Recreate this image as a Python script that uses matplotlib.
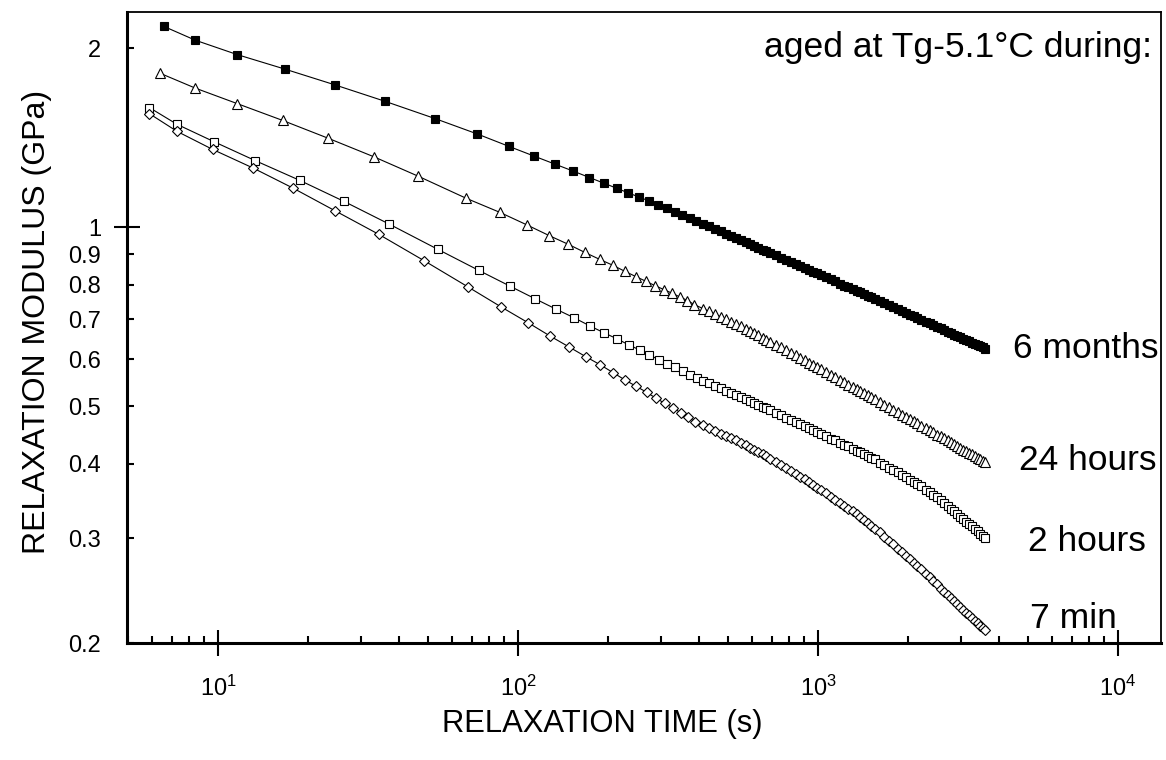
import matplotlib
matplotlib.use("Agg")
import matplotlib.pyplot as plt
from matplotlib.ticker import LogLocator, FixedLocator, FixedFormatter, NullFormatter

plt.rcParams['font.family'] = ['Liberation Sans', 'DejaVu Sans']
plt.rcParams['mathtext.fontset'] = 'custom'
plt.rcParams['mathtext.rm'] = 'Liberation Sans'
plt.rcParams['mathtext.default'] = 'regular'

# relaxation time (s), first part of each test (own sampling)
t_6mo = [6.6, 8.4, 11.6, 16.7, 24.5, 36, 53, 73, 93, 113, 133, 153, 173, 193,
         213, 233, 253, 273, 293, 313, 333, 353, 373, 393]
t_24h = [6.4, 8.4, 11.6, 16.4, 23.2, 33.1, 46.5, 67, 87, 107, 127, 147, 167,
         187, 207, 227, 247, 267, 287, 307, 327, 347, 367, 387]
t_2h = [5.9, 7.3, 9.7, 13.3, 18.7, 26.2, 37.2, 54, 74, 94, 114, 134, 154, 174,
        194, 214, 234, 254, 274, 294, 314, 334, 354, 374, 394]
t_7min = [5.9, 7.3, 9.6, 13.1, 17.8, 24.6, 34.3, 48.7, 68, 88, 108, 128, 148,
          168, 188, 208, 228, 248, 268, 288, 308, 328, 348, 368, 388]

# relaxation modulus (GPa), first part
g_6mo = [2.175, 2.062, 1.950, 1.844, 1.735, 1.628, 1.522, 1.435, 1.368, 1.317,
         1.276, 1.242, 1.212, 1.186, 1.163, 1.142, 1.124, 1.107, 1.091, 1.077,
         1.062, 1.049, 1.036, 1.024]
g_24h = [1.815, 1.713, 1.613, 1.512, 1.412, 1.313, 1.218, 1.119, 1.059, 1.009,
         0.968, 0.936, 0.907, 0.883, 0.863, 0.843, 0.826, 0.811, 0.797, 0.785,
         0.774, 0.763, 0.753, 0.741]
g_2h = [1.589, 1.489, 1.392, 1.294, 1.199, 1.106, 1.012, 0.918, 0.846, 0.796,
        0.758, 0.728, 0.704, 0.682, 0.664, 0.649, 0.634, 0.622, 0.610, 0.599,
        0.590, 0.582, 0.573, 0.565, 0.557]
g_7min = [1.552, 1.449, 1.351, 1.257, 1.163, 1.065, 0.973, 0.878, 0.794, 0.734,
          0.691, 0.656, 0.629, 0.606, 0.587, 0.569, 0.553, 0.540, 0.528, 0.516,
          0.506, 0.497, 0.488, 0.480, 0.471]

# later part, same times for all tests
t_tail = [413, 433, 453, 473, 493, 513, 533, 553, 573, 593, 613, 633, 653, 673, 693,
          723, 753, 783, 813, 843, 873, 903, 933, 963, 993, 1023,
          1063, 1103, 1143, 1183, 1223, 1263, 1303, 1343, 1383, 1423, 1463, 1503, 1543,
          1603, 1663, 1723, 1783, 1843, 1903, 1963, 2023, 2083, 2143, 2203,
          2283, 2353, 2423, 2493, 2563, 2633, 2703, 2773, 2843, 2913,
          2983, 3053, 3123, 3193, 3263, 3333, 3403, 3473, 3543, 3613]
g_6mo_tail = [1.013, 1.003, 0.993, 0.984, 0.975, 0.966, 0.958, 0.951, 0.943, 0.936,
              0.930, 0.923, 0.917, 0.911, 0.905,
              0.897, 0.889, 0.881, 0.874, 0.867, 0.861, 0.854, 0.848, 0.842, 0.837, 0.831,
              0.824, 0.817, 0.811, 0.804, 0.798, 0.792, 0.787, 0.782, 0.777, 0.772,
              0.767, 0.762, 0.758,
              0.751, 0.745, 0.739, 0.733, 0.728, 0.723, 0.717, 0.713, 0.708, 0.703, 0.699,
              0.693, 0.689, 0.684, 0.680, 0.676, 0.672, 0.667, 0.664, 0.660, 0.656,
              0.653, 0.650, 0.646, 0.643, 0.640, 0.637, 0.634, 0.631, 0.628, 0.625]
g_24h_tail = [0.730, 0.722, 0.715, 0.707, 0.700, 0.693, 0.687, 0.681, 0.675, 0.669,
              0.663, 0.658, 0.652, 0.647, 0.642,
              0.635, 0.628, 0.621, 0.615, 0.609, 0.603, 0.598, 0.592, 0.587, 0.582, 0.577,
              0.571, 0.565, 0.560, 0.554, 0.549, 0.544, 0.539, 0.535, 0.531, 0.526,
              0.522, 0.518, 0.514,
              0.509, 0.503, 0.498, 0.493, 0.489, 0.484, 0.480, 0.476, 0.472, 0.468, 0.464,
              0.460, 0.456, 0.452, 0.448, 0.445, 0.442, 0.438, 0.435, 0.432, 0.429,
              0.426, 0.423, 0.420, 0.418, 0.415, 0.412, 0.410, 0.407, 0.405, 0.403]
g_2h_tail = [0.552, 0.547, 0.541, 0.536, 0.531, 0.527, 0.523, 0.518, 0.514, 0.510,
             0.506, 0.503, 0.499, 0.496, 0.492,
             0.488, 0.483, 0.478, 0.474, 0.470, 0.466, 0.463, 0.459, 0.456, 0.452, 0.449,
             0.445, 0.441, 0.438, 0.434, 0.431, 0.428, 0.424, 0.421, 0.419, 0.415,
             0.412, 0.409, 0.407,
             0.402, 0.398, 0.394, 0.391, 0.387, 0.383, 0.380, 0.376, 0.373, 0.370, 0.367,
             0.362, 0.359, 0.355, 0.352, 0.348, 0.344, 0.340, 0.336, 0.333, 0.329,
             0.326, 0.323, 0.320, 0.317, 0.314, 0.311, 0.308, 0.305, 0.303, 0.300]
g_7min_tail = [0.465, 0.460, 0.455, 0.450, 0.446, 0.442, 0.438, 0.434, 0.430, 0.426,
               0.422, 0.419, 0.415, 0.412, 0.408,
               0.403, 0.398, 0.394, 0.389, 0.385, 0.381, 0.377, 0.373, 0.369, 0.365, 0.361,
               0.357, 0.352, 0.348, 0.344, 0.340, 0.336, 0.333, 0.329, 0.326, 0.322,
               0.318, 0.315, 0.311,
               0.307, 0.302, 0.297, 0.293, 0.288, 0.284, 0.280, 0.277, 0.273, 0.269, 0.266,
               0.261, 0.258, 0.254, 0.251, 0.247, 0.244, 0.241, 0.238, 0.235, 0.233,
               0.230, 0.227, 0.225, 0.223, 0.220, 0.218, 0.216, 0.214, 0.212, 0.210]

series_labels = ["6 months", "24 hours", "2 hours", "7 min"]
y_ticks = [0.2, 0.3, 0.4, 0.5, 0.6, 0.7, 0.8, 0.9, 2]
y_tick_labels = ["0.2", "0.3", "0.4", "0.5", "0.6", "0.7", "0.8", "0.9", "2"]

fig = plt.figure(figsize=(11.66, 7.6), dpi=100)
ax = fig.add_axes([0.1089, 0.1539, 0.8868, 0.8303])

ax.plot(t_6mo + t_tail, g_6mo + g_6mo_tail, color='black', lw=0.8,
        marker='s', ms=5.5, mfc='black', mec='black', mew=0.8)
ax.plot(t_24h + t_tail, g_24h + g_24h_tail, color='black', lw=0.8,
        marker='^', ms=7, mfc='white', mec='black', mew=0.8)
ax.plot(t_2h + t_tail, g_2h + g_2h_tail, color='black', lw=0.8,
        marker='s', ms=5.5, mfc='white', mec='black', mew=0.8)
ax.plot(t_7min + t_tail, g_7min + g_7min_tail, color='black', lw=0.8,
        marker='D', ms=5.5, mfc='white', mec='black', mew=0.8)

ax.set_xscale('log')
ax.set_yscale('log')
ax.set_xlim(4.97, 13900)
ax.set_ylim(0.2, 2.30)

ax.xaxis.set_major_locator(LogLocator(base=10))
ax.xaxis.set_minor_locator(LogLocator(base=10, subs=range(2, 10)))
ax.xaxis.set_minor_formatter(NullFormatter())

ax.yaxis.set_major_locator(FixedLocator([1]))
ax.yaxis.set_major_formatter(FixedFormatter(["1"]))
ax.yaxis.set_minor_locator(FixedLocator(y_ticks))
ax.yaxis.set_minor_formatter(FixedFormatter(y_tick_labels))

ax.tick_params(which='major', direction='inout', length=19, width=1.5, labelsize=17)
ax.tick_params(which='minor', direction='in', length=5, width=1.5, labelsize=17)
ax.tick_params(axis='x', which='major', pad=14)
ax.tick_params(axis='y', which='major', pad=9)
ax.tick_params(axis='y', which='minor', pad=18.5)

for side in ['left', 'bottom']:
    ax.spines[side].set_linewidth(2.2)
for side in ['top', 'right']:
    ax.spines[side].set_linewidth(1.3)

ax.set_xlabel("RELAXATION TIME (s)", fontsize=22.3, labelpad=6, x=0.4594)
ax.set_ylabel("RELAXATION MODULUS (GPa)", fontsize=23, labelpad=12, y=0.509)

ax.text(0.9913, 0.9445, "aged at Tg-5.1°C during:", transform=ax.transAxes,
        ha='right', va='center', fontsize=25.5)
label_pos = [(0.8569, 0.4675), (0.8627, 0.290), (0.8714, 0.1616), (0.8733, 0.0396)]
for name, (px, py) in zip(series_labels, label_pos):
    ax.text(px, py, name, transform=ax.transAxes, ha='left', va='center', fontsize=25.5)

fig.savefig("out.png", dpi=100)
